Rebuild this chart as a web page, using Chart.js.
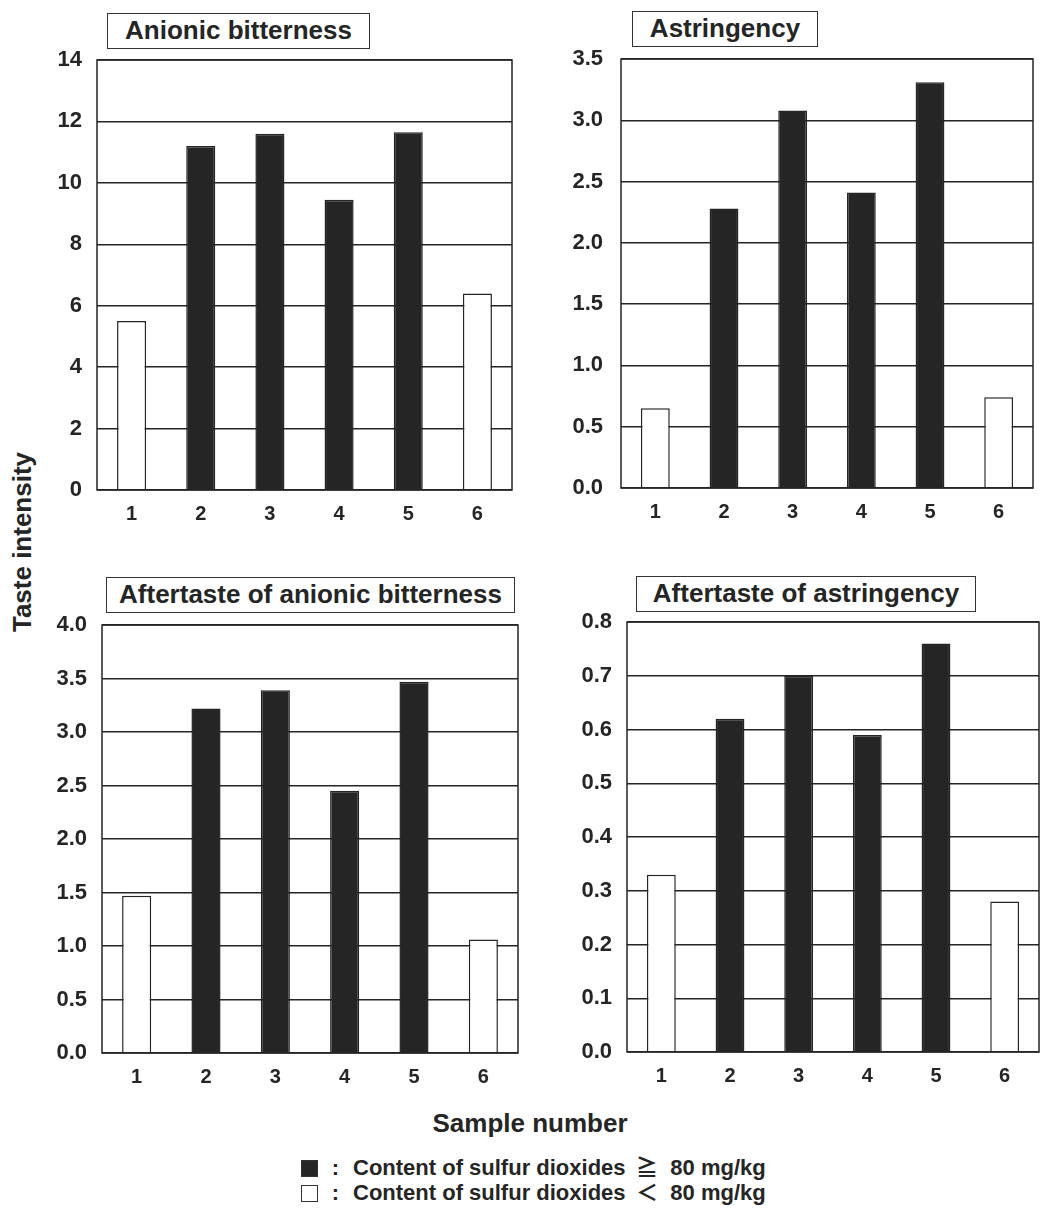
<!DOCTYPE html>
<html>
<head>
<meta charset="utf-8">
<script src="https://cdn.jsdelivr.net/npm/chart.js@4.4.1/dist/chart.umd.min.js"></script>
<style>
  body {
    margin: 0;
    width: 1040px;
    height: 1209px;
    background: #fff;
    overflow: hidden;
    position: relative;
    font-family: "Liberation Sans", Arial, "Noto Sans CJK JP", sans-serif;
    font-weight: bold;
    color: #252525;
  }
  canvas { position: absolute; }
  .ttl {
    position: absolute;
    box-sizing: border-box;
    border: 1.5px solid #333;
    font-size: 26px;
    text-align: center;
    white-space: nowrap;
    background: #fff;
  }
  #ylab {
    position: absolute;
    left: 22px;
    top: 542px;
    font-size: 26px;
    white-space: nowrap;
    transform: translate(-50%, -50%) rotate(-90deg);
  }
  #xlab {
    position: absolute;
    left: 530px;
    top: 1123px;
    font-size: 26px;
    white-space: nowrap;
    transform: translate(-50%, -50%);
  }
  .leg {
    position: absolute;
    left: 301px;
    font-size: 22px;
    white-space: nowrap;
    line-height: 24px;
  }
  .leg .sw {
    display: inline-block;
    width: 17px;
    height: 17px;
    box-sizing: border-box;
    border: 1.5px solid #333;
    vertical-align: -2px;
  }
  .leg .colon { display: inline-block; width: 35px; text-align: center; }
</style>
</head>
<body>
<div id="ylab">Taste intensity</div>
<div id="xlab">Sample number</div>

<script>
// 数据
const samples = ['1', '2', '3', '4', '5', '6'];
const highSO2 = [false, true, true, true, true, false];   // 黑色柱 = 二氧化硫含量 ≥ 80 mg/kg

const anionicBitterness = [5.5, 11.2, 11.6, 9.45, 11.65, 6.4];
const astringency = [0.65, 2.28, 3.08, 2.41, 3.31, 0.74];
const afterAnionic = [1.47, 3.22, 3.39, 2.45, 3.47, 1.06];
const afterAstringency = [0.33, 0.62, 0.70, 0.59, 0.76, 0.28];

const panelTitles = ['Anionic bitterness', 'Astringency', 'Aftertaste of anionic bitterness', 'Aftertaste of astringency'];
const yMax = [14, 3.5, 4.0, 0.8];
const yStep = [2, 0.5, 0.5, 0.1];
const yDecimals = [0, 1, 1, 1];

const legendLabels = ['Content of sulfur dioxides\u2009 ≧ \u00a080 mg/kg', 'Content of sulfur dioxides\u2009 ＜ \u00a080 mg/kg'];

// 每个子图的绘图区与标题框位置
const layouts = [
  { area: { l: 97, r: 512, t: 60, b: 490 }, box: { l: 107, t: 13, w: 263, h: 36 }, pad: 15 },
  { area: { l: 621, r: 1033, t: 59, b: 488 }, box: { l: 632, t: 11, w: 186, h: 36 }, pad: 18 },
  { area: { l: 102, r: 518, t: 625, b: 1053 }, box: { l: 106, t: 577, w: 409, h: 36 }, pad: 15 },
  { area: { l: 627, r: 1039, t: 622, b: 1052 }, box: { l: 636, t: 576, w: 340, h: 36 }, pad: 15 }
];
const seriesList = [anionicBitterness, astringency, afterAnionic, afterAstringency];

const INK = '#252525';
const Y_AXIS_W = 90, X_AXIS_H = 45, PAD_TOP = 20, PAD_RIGHT = 8;

// 外框：按 chartArea 画一个矩形
const framePlugin = {
  id: 'frame',
  afterDatasetsDraw(chart) {
    const { ctx, chartArea: a } = chart;
    ctx.save();
    ctx.strokeStyle = INK;
    ctx.lineWidth = 1.5;
    ctx.strokeRect(a.left, a.top, a.right - a.left, a.bottom - a.top);
    ctx.restore();
  }
};

layouts.forEach((lay, i) => {
  const a = lay.area;
  const cv = document.createElement('canvas');
  const w = a.r - a.l + Y_AXIS_W + PAD_RIGHT;
  const h = a.b - a.t + PAD_TOP + X_AXIS_H;
  cv.width = w;
  cv.height = h;
  cv.style.left = (a.l - Y_AXIS_W) + 'px';
  cv.style.top = (a.t - PAD_TOP) + 'px';
  cv.style.width = w + 'px';
  cv.style.height = h + 'px';
  document.body.appendChild(cv);

  const box = document.createElement('div');
  box.className = 'ttl';
  box.textContent = panelTitles[i];
  Object.assign(box.style, {
    left: lay.box.l + 'px', top: lay.box.t + 'px',
    width: lay.box.w + 'px', height: lay.box.h + 'px',
    lineHeight: (lay.box.h - 3) + 'px'
  });
  document.body.appendChild(box);

  new Chart(cv, {
    type: 'bar',
    data: {
      labels: samples,
      datasets: [{
        data: seriesList[i],
        backgroundColor: highSO2.map(h => h ? INK : '#ffffff'),
        borderColor: INK,
        borderWidth: 1.5,
        barPercentage: 0.42,
        categoryPercentage: 1.0
      }]
    },
    options: {
      responsive: false,
      animation: false,
      devicePixelRatio: 1,
      layout: { padding: { top: PAD_TOP, right: PAD_RIGHT, left: 0, bottom: 0 } },
      plugins: { legend: { display: false }, tooltip: { enabled: false } },
      scales: {
        x: {
          offset: true,
          grid: { display: false, drawTicks: false },
          border: { display: false },
          ticks: { color: INK, padding: 12, font: { family: 'Liberation Sans', size: 20, weight: 'bold' } },
          afterFit(s) { s.height = X_AXIS_H; }
        },
        y: {
          min: 0,
          max: yMax[i],
          grid: { color: INK, lineWidth: 1.5, drawTicks: false },
          border: { display: false },
          ticks: {
            stepSize: yStep[i],
            color: INK,
            padding: lay.pad,
            font: { family: 'Liberation Sans', size: 22, weight: 'bold' },
            callback: v => Number(v).toFixed(yDecimals[i])
          },
          // 固定轴宽，并去掉刻度文字带来的上下留白，使绘图区与原图对齐
          afterFit(s) {
            s.width = Y_AXIS_W;
            s.paddingTop = 0;
            s.paddingBottom = 0;
          }
        }
      }
    },
    plugins: [framePlugin]
  });
});

// 图例
legendLabels.forEach((txt, k) => {
  const row = document.createElement('div');
  row.className = 'leg';
  row.style.top = (1156 + k * 25) + 'px';
  row.innerHTML = '<span class="sw" style="background:' + (k === 0 ? INK : '#fff') + '"></span>' +
    '<span class="colon">:</span>' + txt;
  document.body.appendChild(row);
});
</script>
</body>
</html>
